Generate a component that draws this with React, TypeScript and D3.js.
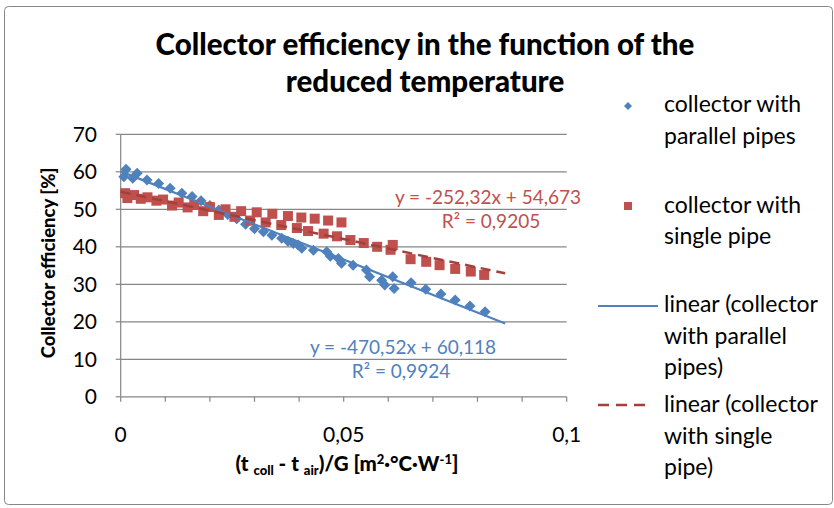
import React from "react";
import * as d3 from "d3";

// Reduced temperature (t_coll - t_air)/G and efficiency [%] — collector with parallel pipes
const parallelX = [
  0.0007, 0.0012, 0.0027, 0.0037, 0.0059, 0.0085, 0.0111, 0.0137, 0.016, 0.018,
  0.02, 0.022, 0.024, 0.026, 0.028, 0.03, 0.032, 0.0339, 0.0361, 0.0375,
  0.0387, 0.0398, 0.0406, 0.0432, 0.0462, 0.047, 0.0488, 0.0495, 0.0521, 0.0551,
  0.0558, 0.0585, 0.0592, 0.061, 0.0613, 0.0651, 0.0684, 0.0718, 0.075, 0.0783,
  0.0817,
];
const parallelY = [
  58.7, 60.7, 58.3, 59.6, 57.8, 56.9, 55.6, 54.3, 53.4, 52.3,
  51.0, 49.8, 48.6, 47.5, 46.0, 44.8, 44.0, 43.1, 42.3, 41.5,
  40.9, 40.5, 39.6, 39.1, 38.7, 37.5, 36.9, 35.6, 35.1, 33.8,
  32.0, 31.1, 29.8, 32.0, 28.9, 30.4, 28.7, 27.4, 25.8, 24.2,
  22.7,
];

// Collector with single pipe
const singleX = [
  0.001, 0.0015, 0.003, 0.0045, 0.006, 0.008, 0.0095, 0.0115, 0.013, 0.015,
  0.0165, 0.0185, 0.02, 0.022, 0.0235, 0.0255, 0.027, 0.029, 0.0305, 0.0325,
  0.034, 0.036, 0.0375, 0.0395, 0.0405, 0.042, 0.0435, 0.0455, 0.0465, 0.0485,
  0.0495, 0.0515, 0.0545, 0.0575, 0.0605, 0.061, 0.065, 0.0685, 0.0715, 0.075,
  0.0785, 0.0815,
];
const singleY = [
  54.3, 53.0, 53.8, 52.8, 53.2, 52.3, 52.6, 51.0, 51.8, 50.5,
  51.2, 49.5, 50.6, 48.5, 50.0, 48.0, 49.5, 47.0, 49.2, 46.5,
  48.8, 45.8, 48.2, 45.0, 47.8, 44.2, 47.5, 43.5, 47.0, 42.8,
  46.5, 41.8, 41.0, 40.0, 39.2, 40.5, 36.7, 36.0, 35.1, 34.1,
  33.4, 32.5,
];

// Linear fits
const parallelFit = { slope: -470.52, intercept: 60.118, r2: 0.9924 };
const singleFit = { slope: -252.32, intercept: 54.673, r2: 0.9205 };
const fitRange = [0, 0.0862];

const yTicks = [0, 10, 20, 30, 40, 50, 60, 70];
const xTicks = [0, 0.05, 0.1];
const xMinorTicks = d3.range(0, 0.1001, 0.01);

const title = ["Collector efficiency in the function of the", "reduced temperature"];
const legendParallel = ["collector with", "parallel pipes"];
const legendSingle = ["collector with", "single pipe"];
const legendParallelFit = ["linear (collector", "with parallel", "pipes)"];
const legendSingleFit = ["linear (collector", "with single", "pipe)"];

const BLUE = "#4F81BD";
const RED = "#C0504D";
const RED_DARK = "#A33F3C";
const GREY = "#868686";
const FONT = "Lato, 'Open Sans', sans-serif";

const locale = d3.formatLocale({
  decimal: ",",
  thousands: " ",
  grouping: [3],
  currency: ["", ""],
  minus: "-",
});
const fmtTick = locale.format("~g");

function App() {
  const x = d3.scaleLinear().domain([0, 0.1]).range([120.7, 566.7]);
  const y = d3.scaleLinear().domain([0, 70]).range([396.8, 134.3]);

  const diamond = (cx: number, cy: number, r: number) =>
    `M${cx},${cy - r}L${cx + r},${cy}L${cx},${cy + r}L${cx - r},${cy}Z`;

  const fitLine = (f: { slope: number; intercept: number }) =>
    d3
      .line<number>()
      .x((v) => x(v))
      .y((v) => y(f.slope * v + f.intercept))(fitRange);

  const eq = (f: { slope: number; intercept: number }) =>
    `y = ${locale.format(".2f")(f.slope)}x + ${locale.format(".3f")(f.intercept)}`;
  const r2 = (f: { r2: number }) => `R² = ${locale.format(".4f")(f.r2)}`;

  const [x0, x1] = x.range();
  const [yb, yt] = y.range();

  return (
    <svg
      width={834}
      height={508}
      style={{ position: "absolute", left: 0, top: 0, background: "#fff" }}
      fontFamily={FONT}
    >
      <rect x={0} y={0} width={834} height={508} fill="#fff" />
      <rect x={4.5} y={6.5} width={828} height={498} rx={4} fill="#fff" stroke={GREY} strokeWidth={1} />

      {/* title */}
      {title.map((t, i) => (
        <text key={t} x={425} y={55 + i * 37} textAnchor="middle" fontSize={29.5} fontWeight={900} fill="#000">
          {t}
        </text>
      ))}

      {/* gridlines */}
      {yTicks.filter((v) => v > 0).map((v) => (
        <line key={v} x1={x0} x2={x1} y1={y(v)} y2={y(v)} stroke={GREY} strokeWidth={1.2} />
      ))}

      {/* y axis */}
      <line x1={x0} x2={x0} y1={yt} y2={yb} stroke={GREY} strokeWidth={1.2} />
      {yTicks.map((v) => (
        <g key={v}>
          <line x1={x0 - 5} x2={x0} y1={y(v)} y2={y(v)} stroke={GREY} strokeWidth={1.2} />
          <text x={97} y={y(v)} dy="0.35em" textAnchor="end" fontSize={21} fill="#000">
            {v}
          </text>
        </g>
      ))}

      {/* x axis */}
      <line x1={x0} x2={x1} y1={yb} y2={yb} stroke={GREY} strokeWidth={1.2} />
      {xMinorTicks.map((v) => (
        <line key={v} x1={x(v)} x2={x(v)} y1={yb} y2={yb + 5} stroke={GREY} strokeWidth={1.2} />
      ))}
      {xTicks.map((v) => (
        <text key={v} x={x(v)} y={442} textAnchor="middle" fontSize={21} fill="#000">
          {fmtTick(v)}
        </text>
      ))}

      {/* axis titles */}
      <text
        transform={`translate(55,263) rotate(-90)`}
        textAnchor="middle"
        fontSize={18.5}
        fontWeight={900}
        fill="#000"
      >
        Collector efficiency [%]
      </text>
      <text x={347} y={471} textAnchor="middle" fontSize={20.5} fontWeight={900} fill="#000">
        (t <tspan fontSize={13} dy={4}>coll</tspan>
        <tspan dy={-4}> - t </tspan>
        <tspan fontSize={13} dy={4}>air</tspan>
        <tspan dy={-4}>)/G [m</tspan>
        <tspan fontSize={13} dy={-7}>2</tspan>
        <tspan dy={7}>·°C·W</tspan>
        <tspan fontSize={13} dy={-7}>-1</tspan>
        <tspan dy={7}>]</tspan>
      </text>

      {/* data points */}
      {parallelX.map((v, i) => (
        <path key={`p${i}`} d={diamond(x(v), y(parallelY[i]), 5.5)} fill={BLUE} />
      ))}
      {singleX.map((v, i) => (
        <rect key={`s${i}`} x={x(v) - 5} y={y(singleY[i]) - 5} width={10} height={10} fill={RED} />
      ))}

      {/* trendlines */}
      <path d={fitLine(parallelFit) || ""} fill="none" stroke={BLUE} strokeWidth={2.2} />
      <path d={fitLine(singleFit) || ""} fill="none" stroke={RED_DARK} strokeWidth={2.5} strokeDasharray="10,6" />

      {/* trendline equations */}
      <text x={488} y={204} textAnchor="middle" fontSize={19} fill={RED}>{eq(singleFit)}</text>
      <text x={491} y={228} textAnchor="middle" fontSize={19} fill={RED}>{r2(singleFit)}</text>
      <text x={403} y={354} textAnchor="middle" fontSize={19} fill={BLUE}>{eq(parallelFit)}</text>
      <text x={401} y={378} textAnchor="middle" fontSize={19} fill={BLUE}>{r2(parallelFit)}</text>

      {/* legend */}
      <path d={diamond(628, 106, 4)} fill={BLUE} />
      {legendParallel.map((t, i) => (
        <text key={`lp${i}`} x={664} y={112 + i * 32} fontSize={23} fill="#000">{t}</text>
      ))}
      <rect x={624} y={202} width={8} height={8} fill={RED} />
      {legendSingle.map((t, i) => (
        <text key={`ls${i}`} x={664} y={213 + i * 31} fontSize={23} fill="#000">{t}</text>
      ))}
      <line x1={598} x2={658} y1={306} y2={306} stroke={BLUE} strokeWidth={2.2} />
      {legendParallelFit.map((t, i) => (
        <text key={`lpf${i}`} x={664} y={312 + i * 31.5} fontSize={23} fill="#000">{t}</text>
      ))}
      <line x1={598} x2={648} y1={405} y2={405} stroke={RED_DARK} strokeWidth={2.5} strokeDasharray="11,7" />
      {legendSingleFit.map((t, i) => (
        <text key={`lsf${i}`} x={664} y={412 + i * 31.5} fontSize={23} fill="#000">{t}</text>
      ))}
    </svg>
  );
}

export default App;
